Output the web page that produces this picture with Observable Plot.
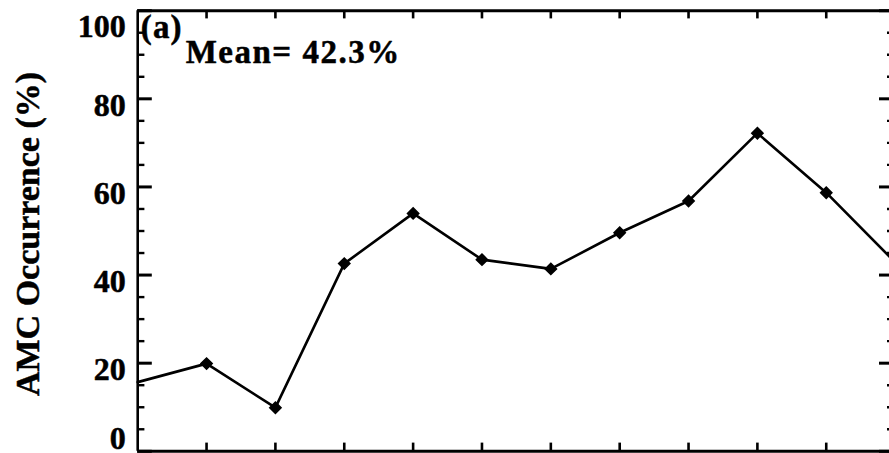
<!DOCTYPE html>
<html>
<head>
<meta charset="utf-8">
<script src="https://cdn.jsdelivr.net/npm/d3@7"></script>
<script src="https://cdn.jsdelivr.net/npm/@observablehq/plot@0.6"></script>
<style>
  html, body { margin: 0; padding: 0; background: #fff; overflow: hidden; }
  #chart svg { display: block; }
</style>
</head>
<body>
<div id="chart"></div>
<script>
// ---- data ----
const months = [1, 2, 3, 4, 5, 6, 7, 8, 9, 10, 11, 12];
const occurrence = [15.7, 19.9, 9.9, 42.6, 54.0, 43.5, 41.4, 49.6, 56.8, 72.2, 58.7, 42.9];
const xTicks = [2, 3, 4, 5, 6, 7, 8, 9, 10, 11];
const yMajorTicks = [0, 20, 40, 60, 80, 100];
const yMinorTicks = d3.range(0, 101, 5).filter(v => v % 20 !== 0);
const yLabel = "AMC Occurrence (%)";
const panelLabel = "(a)";
const meanLabel = "Mean= " + (d3.mean(occurrence)).toFixed(1) + "%";

const data = months.map((m, i) => ({month: m, value: occurrence[i]}));

// ---- geometry ----
const W = 889, H = 453;
const mL = 137.2, mT = 10.2, mB = 2.2;
const xRange = [mL, 894.6];
const pxPerX = (xRange[1] - xRange[0]) / (months[months.length - 1] - months[0]);
const pxPerY = (H - mB - mT) / 100;
const serif = "'Liberation Serif', 'Times New Roman', serif";

const xMin = months[0], xMax = months[months.length - 1];
const yTop = yMajorTicks[yMajorTicks.length - 1], yBottom = yMajorTicks[0];
const heavy = {fill: "#000", stroke: "#000", strokeWidth: 0.5};
const labelStyle = {x: xMin, text: d => String(d), dx: -12, textAnchor: "end",
  fontSize: 32, fontWeight: "bold", ...heavy};

const plot = Plot.plot({
  width: W,
  height: H,
  marginLeft: mL,
  marginRight: 0,
  marginTop: mT,
  marginBottom: mB,
  style: {background: "#fff", color: "#000", fontFamily: serif, overflow: "hidden"},
  x: {domain: [xMin, xMax], range: xRange, axis: null},
  y: {domain: [0, 100], axis: null},
  marks: [
    // frame lines (left, top, bottom)
    Plot.ruleX([xMin], {stroke: "#000", strokeWidth: 2.6}),
    Plot.ruleY([100], {stroke: "#000", strokeWidth: 3}),
    Plot.ruleY([0], {stroke: "#000", strokeWidth: 3}),
    // x ticks top and bottom (inward)
    Plot.ruleX(xTicks, {x: d => d, y1: 100, y2: 100 - 8.2 / pxPerY, stroke: "#000", strokeWidth: 2.6}),
    Plot.ruleX(xTicks, {x: d => d, y1: 0, y2: 8.2 / pxPerY, stroke: "#000", strokeWidth: 2.6}),
    // y ticks left (inward)
    Plot.ruleY(yMajorTicks, {y: d => d, x1: xMin, x2: xMin + 14.6 / pxPerX, stroke: "#000", strokeWidth: 3}),
    Plot.ruleY(yMinorTicks, {y: d => d, x1: xMin, x2: xMin + 7.2 / pxPerX, stroke: "#000", strokeWidth: 2.4}),
    // y ticks right (inward)
    Plot.ruleY(yMajorTicks, {y: d => d, x1: xMax - 15.6 / pxPerX, x2: xMax, stroke: "#000", strokeWidth: 3}),
    Plot.ruleY(yMinorTicks, {y: d => d, x1: xMax - 7.6 / pxPerX, x2: xMax, stroke: "#000", strokeWidth: 2.4}),
    // y tick labels (IDL places the end labels pulled inward)
    Plot.text(yMajorTicks.filter(d => d !== yTop && d !== yBottom), {...labelStyle, y: d => d, dy: 6.5}),
    Plot.text([yTop], {...labelStyle, y: d => d, dy: 16}),
    Plot.text([yBottom], {...labelStyle, y: d => d, dy: -13}),
    // y axis title
    Plot.text([yLabel], {
      frameAnchor: "left", text: d => d, rotate: -90, dx: -110, dy: 3, textAnchor: "middle",
      fontSize: 34, fontWeight: "bold", ...heavy
    }),
    // panel label and mean
    Plot.text([panelLabel], {
      x: xMin, y: 100, text: d => d, dx: 3, dy: 27.5, textAnchor: "start", lineAnchor: "bottom",
      fontSize: 33, fontWeight: "bold", ...heavy
    }),
    Plot.text([meanLabel], {
      x: xMin, y: 100, text: d => d, dx: 48, dy: 52, textAnchor: "start", lineAnchor: "bottom",
      fontSize: 33, fontWeight: "bold", ...heavy
    }),
    // data line and markers
    Plot.line(data, {x: "month", y: "value", stroke: "#000", strokeWidth: 2.6}),
    Plot.dot(data.filter(d => d.month > xMin && d.month < xMax), {
      x: "month", y: "value", symbol: "diamond2", r: 5.1,
      fill: "#000", stroke: "#000", strokeWidth: 1.5
    })
  ]
});

// wide IDL-like glyph spacing for the annotation texts
plot.querySelectorAll("text").forEach(t => {
  const s = t.textContent;
  if (s === panelLabel) t.setAttribute("letter-spacing", "1.2");
  if (s === meanLabel) t.setAttribute("letter-spacing", "1.5");
});

document.getElementById("chart").appendChild(plot);
</script>
</body>
</html>
